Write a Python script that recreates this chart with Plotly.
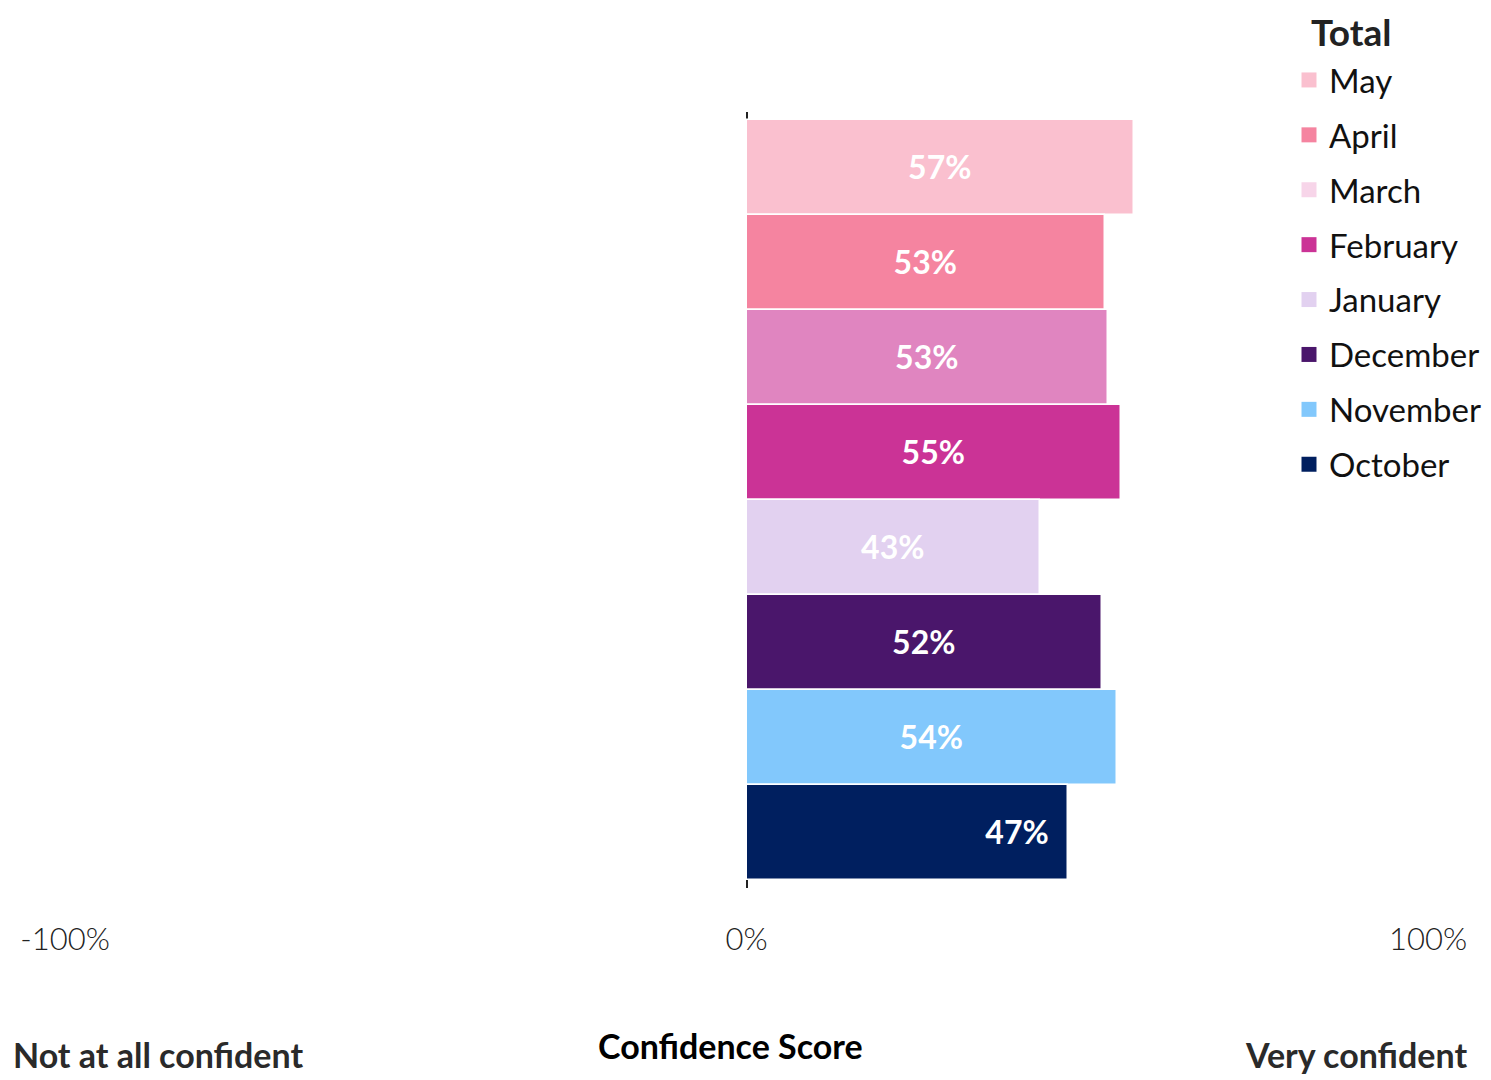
import plotly.graph_objects as go

# months top to bottom, as in the legend
months = ["May", "April", "March", "February", "January", "December", "November", "October"]
scores = [56.8, 52.6, 53.0, 54.9, 43.0, 52.2, 54.4, 47.2]
bar_colors = ["#FAC0CF", "#F584A0", "#E085C0", "#CB3396", "#E2D1F0", "#4A166B", "#82C8FC", "#001F5F"]
legend_colors = ["#FAC0CF", "#F584A0", "#F7D5E9", "#CB3396", "#E2D1F0", "#4A166B", "#82C8FC", "#001F5F"]

tick_vals = [-100, 0, 100]
tick_text = ["-100%", "0%", "100%"]

FONT = "Lato"

# plot area in page pixels (the page body adds an 8px offset)
PL, PR, PT, PB = 65, 1428, 112, 888
PW, PH = PR - PL, PB - PT


def px(x):
    return (x - PL) / PW


def py(y):
    return (PB - y) / PH


fig = go.Figure()

# bars (legend drawn separately since March swatch differs from its bar)
for m, v, c in zip(months, scores, bar_colors):
    is_oct = m == "October"
    fig.add_trace(go.Bar(
        y=[m], x=[v], orientation="h", name=m,
        marker=dict(color=c, line=dict(color="white", width=1.5)),
        text=[f"{v:.0f}%" + ("\u00a0\u00a0" if is_oct else "")],
        textposition="inside",
        insidetextanchor="end" if is_oct else "middle",
        textfont=dict(family=FONT, size=32, color="white", weight="bold"),
        showlegend=False, hoverinfo="x+y",
    ))

# legend-only entries
for i, (m, c) in enumerate(zip(months, legend_colors)):
    fig.add_trace(go.Scatter(
        y=[None], x=[None], mode="markers", name=m,
        marker=dict(color=c, symbol="square", size=15),
        legendgroup=f"g{i}", showlegend=True,
    ))

fig.update_layout(
    width=1491, height=1080,
    margin=dict(l=PL - 8, r=1491 - (PR - 8), t=PT - 8, b=1080 - (PB - 8), autoexpand=False),
    plot_bgcolor="white", paper_bgcolor="white",
    barmode="overlay", bargap=0,
    font=dict(family=FONT, color="#222222"),
    legend=dict(
        font=dict(family=FONT, size=33, color="#111111"),
        x=px(1289), xanchor="left", y=py(52), yanchor="top",
        traceorder="grouped", tracegroupgap=9,
        bgcolor="rgba(0,0,0,0)",
    ),
    xaxis=dict(
        range=[-100, 100], tickvals=tick_vals, ticktext=tick_text,
        showgrid=False, zeroline=True, zerolinecolor="#222222", zerolinewidth=1.5,
        ticks="outside", ticklen=24, tickcolor="rgba(0,0,0,0)",
        tickfont=dict(family=FONT, size=31, color="#222222", weight=300),
        fixedrange=True,
    ),
    yaxis=dict(
        categoryorder="array", categoryarray=months,
        range=[7.579, -0.579], showticklabels=False, showgrid=False,
        zeroline=False, showline=False, fixedrange=True,
    ),
    annotations=[
        dict(text="<b>Total</b>", x=px(1309), y=py(32), xref="paper", yref="paper",
             xanchor="left", yanchor="middle", showarrow=False,
             font=dict(family=FONT, size=37, color="#222222")),
        dict(text="<b>Not at all confident</b>", x=px(11), y=py(1054), xref="paper", yref="paper",
             xanchor="left", yanchor="middle", showarrow=False,
             font=dict(family=FONT, size=34, color="#2a2a2a")),
        dict(text="<b>Confidence Score</b>", x=px(730), y=py(1045), xref="paper", yref="paper",
             xanchor="center", yanchor="middle", showarrow=False,
             font=dict(family=FONT, size=34, color="#000000")),
        dict(text="<b>Very confident</b>", x=px(1469), y=py(1054), xref="paper", yref="paper",
             xanchor="right", yanchor="middle", showarrow=False,
             font=dict(family=FONT, size=34, color="#2a2a2a")),
    ],
)

fig.write_html("out.html")
